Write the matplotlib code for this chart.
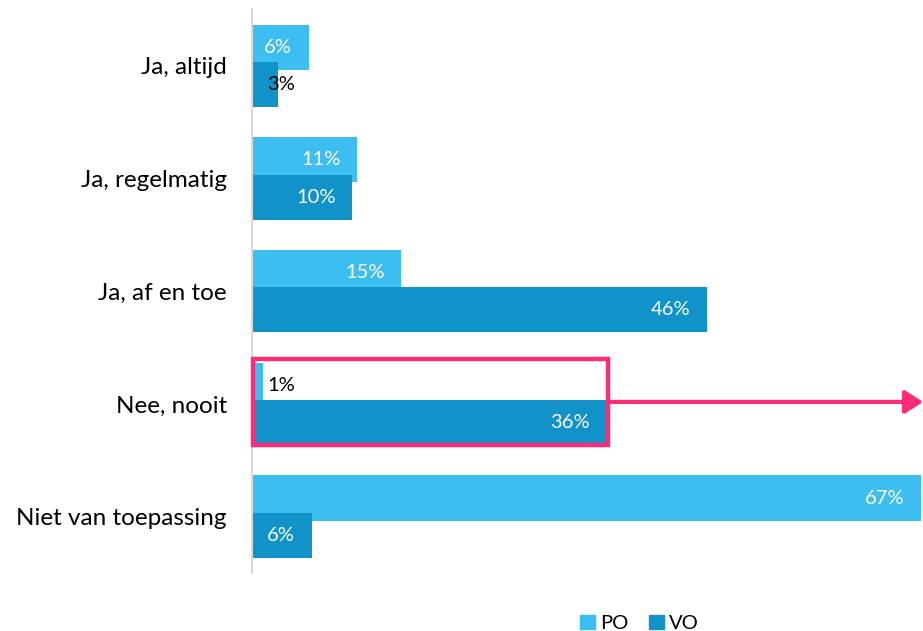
import matplotlib
matplotlib.use("Agg")
import matplotlib.pyplot as plt
from matplotlib.patches import Rectangle, Patch

plt.rcParams['font.family'] = ['Lato', 'DejaVu Sans']

categories = ["Ja, altijd", "Ja, regelmatig", "Ja, af en toe", "Nee, nooit", "Niet van toepassing"]
po_values = [5.7, 10.6, 15.0, 1.1, 67.4]
vo_values = [2.6, 10.1, 45.8, 35.7, 6.0]
series_names = ["PO", "VO"]
highlight_category = "Nee, nooit"

c_po = "#3DBEF0"
c_vo = "#1192C8"
c_pink = "#FF2A78"

fig = plt.figure(figsize=(9.23, 6.31), dpi=100)
ax = fig.add_axes([0.273, 0.092, 0.725, 0.893])

ys = list(range(len(categories)))
off = 0.165
h = 0.40
ax.barh([y - off for y in ys], po_values, height=h, color=c_po, zorder=2)
ax.barh([y + off for y in ys], vo_values, height=h, color=c_vo, zorder=3)

xmax = max(po_values + vo_values)
ax.set_xlim(0, xmax)
ax.set_ylim(len(categories) - 0.5, -0.5)

def label(v, y):
    txt = f"{round(v):.0f}%"
    if v >= 5:
        ax.text(v - 1.65, y, txt, ha="right", va="center", color="white", fontsize=14.5, zorder=5)
    else:
        ax.text(1.55, y, txt, ha="left", va="center", color="black", fontsize=14.5, zorder=5)

for y, p, v in zip(ys, po_values, vo_values):
    label(p, y - off)
    label(v, y + off)

ax.set_yticks(ys)
ax.set_yticklabels(categories, fontsize=17.5)
ax.tick_params(axis="y", length=0, pad=18)
ax.set_xticks([])
for s in ["top", "right", "bottom"]:
    ax.spines[s].set_visible(False)
ax.spines["left"].set_color("#D9D9D9")
ax.spines["left"].set_linewidth(1.5)
ax.spines["left"].set_zorder(4)

# highlight box
hi = categories.index(highlight_category)
top = hi - off - h / 2 - 0.035
bottom = hi + off + h / 2 + 0.0
right = vo_values[hi] + 0.2
rect = Rectangle((0.1, top), right - 0.1, bottom - top, fill=False, edgecolor=c_pink,
                 linewidth=3.2, zorder=6, clip_on=False)
ax.add_patch(rect)
ymid = (top + bottom) / 2
ax.annotate("", xy=(1.003, ymid), xycoords=("axes fraction", "data"),
            xytext=(right, ymid), textcoords="data",
            arrowprops=dict(arrowstyle="-|>,head_length=0.55,head_width=0.35", color=c_pink, lw=3,
                            shrinkA=0, shrinkB=0, mutation_scale=20),
            zorder=6, annotation_clip=False)

handles = [Patch(color=c_po, label=series_names[0]), Patch(color=c_vo, label=series_names[1])]
fig.legend(handles=handles, loc="center", bbox_to_anchor=(0.693, 0.012), ncol=2, frameon=False,
           fontsize=14.5, handlelength=0.75, handleheight=0.75, handletextpad=0.25, columnspacing=1.0)

fig.savefig("out.png", dpi=100)
